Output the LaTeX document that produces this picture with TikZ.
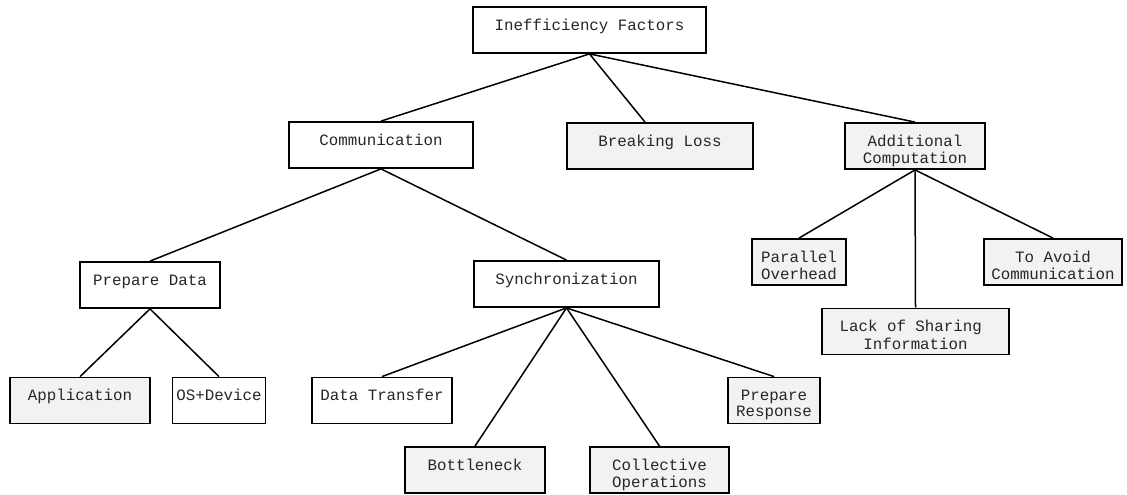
\documentclass[tikz,border=0pt]{standalone}
\usepackage{fontspec}
\setmainfont{Liberation Mono}
\begin{document}
\begin{tikzpicture}[x=1pt,y=-1pt,
  box/.style={draw=black, line width=1.8pt, minimum height=46pt, inner sep=0pt, fill=white},
  gbox/.style={box, fill=boxgray},
  txt/.style={anchor=north, inner sep=0pt, align=center, text=black!85,
              font=\fontsize{15.8}{16}\selectfont},
  edge/.style={draw=black, line width=1.5pt}]
\definecolor{boxgray}{HTML}{F2F2F2}
\useasboundingbox (0,0) rectangle (1127,495);

% boxes
\node[box,  minimum width=233pt] (if)   at (589.5,30)  {};
\node[box,  minimum width=184pt] (comm) at (381,145)   {};
\node[gbox, minimum width=186pt] (bl)   at (660,146)   {};
\node[gbox, minimum width=140pt] (ac)   at (915,146)   {};
\node[box,  minimum width=140pt] (pd)   at (150,285)   {};
\node[box,  minimum width=185pt] (sync) at (566.5,284) {};
\node[gbox, minimum width=94pt]  (po)   at (799,262)   {};
\node[gbox, minimum width=138pt] (ta)   at (1053,262)  {};
\node[gbox, minimum width=187pt] (ls)   at (915.5,331.5) {};
\node[gbox, minimum width=140pt] (app)  at (80,400.5)  {};
\node[box,  minimum width=93pt]  (os)   at (219,400.5) {};
\node[box,  minimum width=140pt] (dt)   at (382,400.5) {};
\node[gbox, minimum width=92pt]  (pr)   at (774,400.5) {};
\node[gbox, minimum width=140pt] (bn)   at (475,470)   {};
\node[gbox, minimum width=139pt] (co)   at (659.5,470) {};

% texts, first line set near the top of each box
\node[txt] (if-t)   at ([yshift=-12.5pt]if.north)   {\strut Inefficiency Factors};
\node[txt] (comm-t) at ([yshift=-12.5pt]comm.north) {\strut Communication};
\node[txt] (bl-t)   at ([yshift=-12.5pt]bl.north)   {\strut Breaking Loss};
\node[txt] (ac-t)   at ([yshift=-12.5pt]ac.north)   {\strut Additional\\Computation};
\node[txt] (pd-t)   at ([yshift=-12.5pt]pd.north)   {\strut Prepare Data};
\node[txt] (sync-t) at ([yshift=-12.5pt]sync.north) {\strut Synchronization};
\node[txt] (po-t)   at ([yshift=-12.5pt]po.north)   {\strut Parallel\\Overhead};
\node[txt] (ta-t)   at ([yshift=-12.5pt]ta.north)   {\strut To Avoid\\Communication};
\node[txt] (ls-t)   at ([yshift=-12.5pt]ls.north)   {\strut Lack of Sharing\phantom{x}\\Information};
\node[txt] (app-t)  at ([yshift=-12.5pt]app.north)  {\strut Application};
\node[txt] (os-t)   at ([yshift=-12.5pt]os.north)   {\strut OS+Device};
\node[txt] (dt-t)   at ([yshift=-12.5pt]dt.north)   {\strut Data Transfer};
\node[txt] (pr-t)   at ([yshift=-12.5pt]pr.north)   {\strut Prepare\\Response};
\node[txt] (bn-t)   at ([yshift=-12.5pt]bn.north)   {\strut Bottleneck};
\node[txt] (co-t)   at ([yshift=-12.5pt]co.north)   {\strut Collective\\Operations};

% tree connectors
\draw[edge] (if.south) -- (comm.north);
\draw[edge] (if.south) -- ([xshift=-15pt]bl.north);
\draw[edge] (if.south) -- (ac.north);
\draw[edge] (comm.south) -- (pd.north);
\draw[edge] (comm.south) -- (sync.north);
\draw[edge] (pd.south) -- (app.north);
\draw[edge] (pd.south) -- (os.north);
\draw[edge] (sync.south) -- (dt.north);
\draw[edge] (sync.south) -- (bn.north);
\draw[edge] (sync.south) -- (co.north);
\draw[edge] (sync.south) -- (pr.north);
\draw[edge] (ac.south) -- (po.north);
\draw[edge] (ac.south) -- (ta.north);
\draw[edge] (ac.south) -- (ls.north);
\end{tikzpicture}
\end{document}
